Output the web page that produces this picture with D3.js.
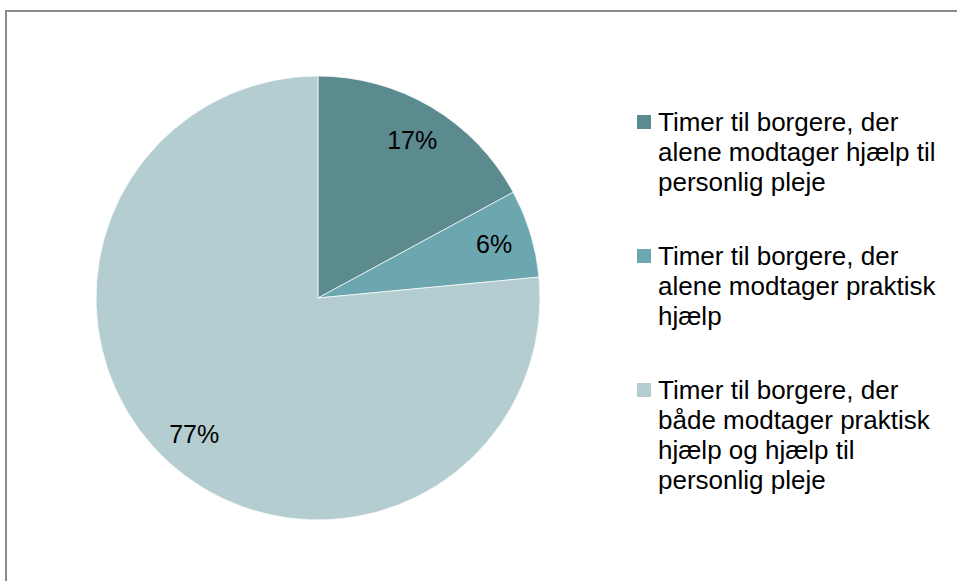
<!DOCTYPE html>
<html>
<head>
<meta charset="utf-8">
<script src="https://cdn.jsdelivr.net/npm/d3@7"></script>
<style>
  html, body { margin: 0; padding: 0; background: #fff; }
  svg { display: block; }
  text { font-family: "Liberation Sans", Arial, sans-serif; fill: #000; }
</style>
</head>
<body>
<svg id="chart" width="957" height="581"></svg>
<script>
// share of hours, per group of citizens (percent)
var categories = [
    "Timer til borgere, der alene modtager hjælp til personlig pleje",
    "Timer til borgere, der alene modtager praktisk hjælp",
    "Timer til borgere, der både modtager praktisk hjælp og hjælp til personlig pleje"
];
var shares = [17.1, 6.4, 76.5];
var colors = ["#5b8a8f", "#6ca6af", "#b4cdd1"];

var W = 957, H = 581;
var svg = d3.select("#chart");

// chart frame (cut off at right and bottom, like the source)
svg.append("rect")
    .attr("x", 6).attr("y", 11)
    .attr("width", W + 20).attr("height", H + 20)
    .attr("fill", "none")
    .attr("stroke", "#8a8a8a")
    .attr("stroke-width", 2);

var cx = 318, cy = 298, R = 222;

var pie = d3.pie().sort(null).value(function(d) { return d; });
var arcs = pie(shares);
var arc = d3.arc().innerRadius(0).outerRadius(R);
var labelArc = d3.arc().innerRadius(184).outerRadius(184);

var g = svg.append("g").attr("transform", "translate(" + cx + "," + cy + ")");

g.selectAll("path.slice")
    .data(arcs)
    .enter().append("path")
    .attr("class", "slice")
    .attr("d", arc)
    .attr("fill", function(d, i) { return colors[i]; })
    .attr("stroke", "#fff")
    .attr("stroke-width", 0.7);

g.selectAll("text.lbl")
    .data(arcs)
    .enter().append("text")
    .attr("class", "lbl")
    .attr("transform", function(d) { return "translate(" + labelArc.centroid(d) + ")"; })
    .attr("text-anchor", "middle")
    .attr("dy", "0.35em")
    .style("font-size", "25px")
    .text(function(d) { return Math.round(d.data) + "%"; });

// legend, wrapped text, stacked top-down
var legendX = 637, textX = 658, lineH = 30, blockGap = 44, maxW = 292;
var yMid = 122; // middle of the first legend line

var leg = svg.append("g");
categories.forEach(function(name, i) {
    var t = leg.append("text").style("font-size", "26px");
    var words = name.split(" "), line = [], n = 0;
    var ts = t.append("tspan").attr("x", textX).attr("y", yMid + 9);
    words.forEach(function(w) {
        line.push(w);
        ts.text(line.join(" "));
        if (ts.node().getComputedTextLength() > maxW && line.length > 1) {
            line.pop();
            ts.text(line.join(" "));
            line = [w];
            n++;
            ts = t.append("tspan").attr("x", textX).attr("y", yMid + 9 + n * lineH).text(w);
        }
    });

    leg.append("rect")
        .attr("x", legendX).attr("y", yMid - 7)
        .attr("width", 14).attr("height", 14)
        .attr("fill", colors[i]);

    yMid += (n + 1) * lineH + blockGap;
});
</script>
</body>
</html>
